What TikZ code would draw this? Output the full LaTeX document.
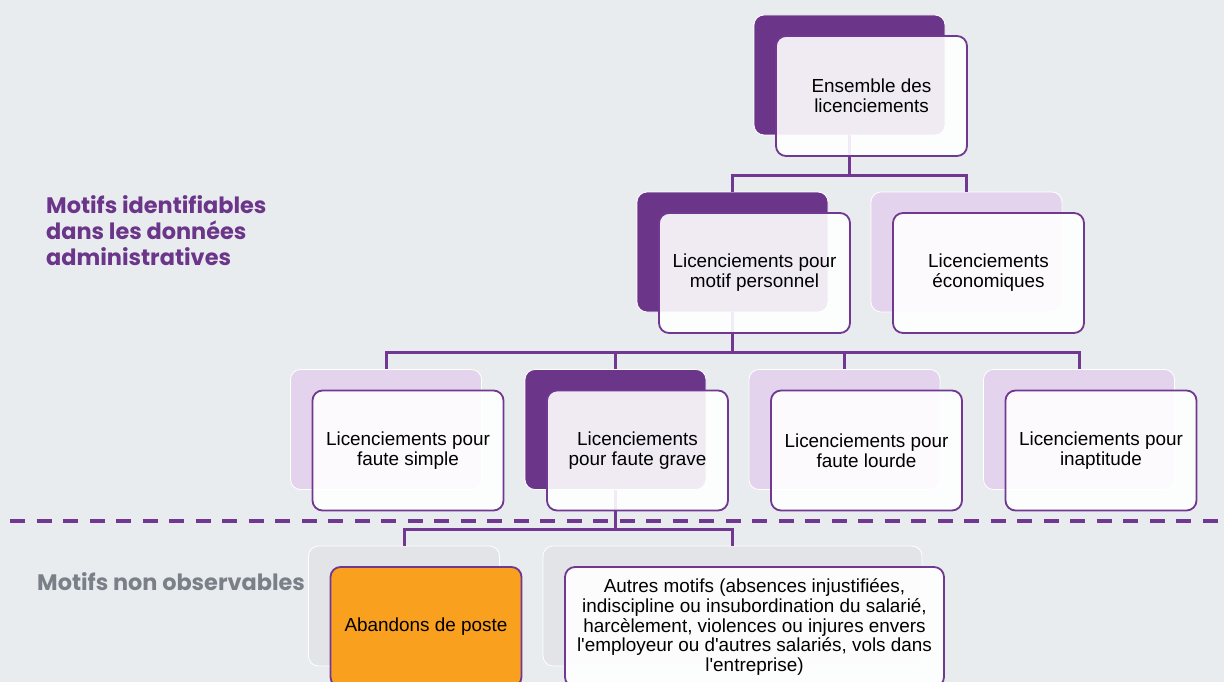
\documentclass[tikz,border=0pt]{standalone}
\usepackage{fontspec}
\setmainfont{Liberation Sans}
\newfontfamily\motiffont{Poppins}
\usetikzlibrary{positioning}

\definecolor{bgcol}{RGB}{232,236,239}
\definecolor{darkpurple}{RGB}{107,53,137}
\definecolor{lightpurple}{RGB}{228,211,236}
\definecolor{linepurple}{RGB}{112,56,145}
\definecolor{boxgray}{RGB}{227,228,231}
\definecolor{textgray}{RGB}{122,128,136}
\definecolor{aborange}{RGB}{250,158,24}

\tikzset{
  tab/.style={rounded corners=10pt, draw=white, line width=0.8pt,
    minimum width=191pt, minimum height=120pt, inner sep=0pt},
  darktab/.style={tab, fill=darkpurple},
  lighttab/.style={tab, fill=lightpurple},
  graytab/.style={tab, fill=boxgray},
  front/.style={rounded corners=10pt, draw=linepurple, line width=1.8pt,
    fill=white, fill opacity=0.9, text opacity=1,
    minimum width=191pt, minimum height=120pt, inner sep=3pt,
    align=center, font=\fontsize{18.9}{19.8}\selectfont},
  link/.style={draw=linepurple, line width=3pt},
}

\begin{document}
\begin{tikzpicture}[x=1pt, y=-1pt]
    \clip (0,0) rectangle (1224,682);
    \fill[bgcol] (0,0) rectangle (1224,682);

    % back tabs
    \node[darktab] (ens-b) at (849.5,75) {};
    \node[darktab] (perso-b) at (732.5,252) {};
    \node[lighttab] (eco-b) at (966.5,252) {};
    \node[lighttab] (simple-b) at (386,429.5) {};
    \node[darktab, minimum width=181pt] (grave-b) at (615.5,429.5) {};
    \node[lighttab] (lourde-b) at (844.5,429.5) {};
    \node[lighttab] (inapt-b) at (1079,429.5) {};
    \node[graytab] (aband-b) at (404,606) {};
    \node[graytab, minimum width=379pt] (autres-b) at (732.5,606) {};

    % tree
    \draw[link] (ens-b.south) -- ++(0,40) -| (perso-b.north);
    \draw[link] (ens-b.south) -- ++(0,40) -| (eco-b.north);
    \foreach \child in {simple-b, grave-b, lourde-b, inapt-b}
      \draw[link] (perso-b.south) -- ++(0,40) -| (\child.north);
    \draw[link] (grave-b.south) -- ++(0,40) -| (aband-b.north);
    \draw[link] (grave-b.south) -- ++(0,40) -| (autres-b.north);

    % front boxes
    \node[front] (ens) at ([xshift=22pt,yshift=-21pt]ens-b.center)
      {Ensemble des\\licenciements};
    \node[front] (perso) at ([xshift=22pt,yshift=-21pt]perso-b.center)
      {Licenciements pour\\motif personnel};
    \node[front] (eco) at ([xshift=22pt,yshift=-21pt]eco-b.center)
      {Licenciements\\économiques};
    \node[front] (simple) at ([xshift=22pt,yshift=-21pt]simple-b.center)
      {Licenciements pour\\faute simple};
    \node[front, minimum width=181pt] (grave) at ([xshift=22pt,yshift=-21pt]grave-b.center)
      {Licenciements\\pour faute grave};
    \node[front] (lourde) at ([xshift=22pt,yshift=-21pt]lourde-b.center)
      {Licenciements pour\\faute lourde};
    \node[front] (inapt) at ([xshift=22pt,yshift=-21pt]inapt-b.center)
      {Licenciements pour\\inaptitude};
    \node[front, fill=aborange, fill opacity=0.97] (aband) at ([xshift=22pt,yshift=-21pt]aband-b.center)
      {Abandons de poste};
    \node[front, minimum width=379pt] (autres) at ([xshift=22pt,yshift=-21pt]autres-b.center)
      {Autres motifs (absences injustifiées,\\indiscipline ou insubordination du salarié,\\harcèlement, violences ou injures envers\\l\textquotesingle employeur ou d\textquotesingle autres salariés, vols dans\\l\textquotesingle entreprise)};

    % separation
    \coordinate (sep-l) at (10,521);
    \coordinate (sep-r) at (1224,521);
    \draw[linepurple, line width=4pt, dash pattern=on 15pt off 11.5pt] (sep-l) -- (sep-r);

    % left labels
    \node[anchor=west, align=left, text=darkpurple, inner sep=0pt,
      font=\motiffont\bfseries\fontsize{22.4}{26}\selectfont] (ident) at (46,231)
      {Motifs identifiables\\dans les données\\administratives};
    \node[anchor=west, text=textgray, inner sep=0pt,
      font=\motiffont\bfseries\fontsize{22.4}{26}\selectfont] (nonobs) at (37,582)
      {Motifs non observables};
\end{tikzpicture}
\end{document}
